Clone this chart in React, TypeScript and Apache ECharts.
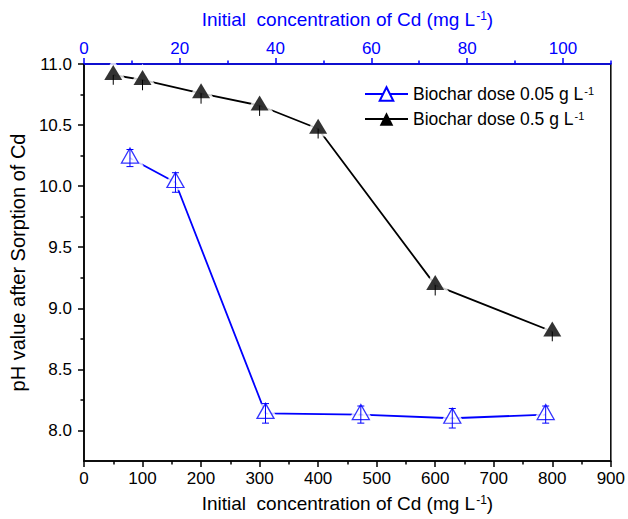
import React, { useEffect, useRef } from 'react';
import * as echarts from 'echarts';

// Black series: biochar dose 0.5 g/L, bottom axis concentration
const blackConc = [50, 100, 200, 300, 400, 600, 800];
const blackPH = [10.91, 10.87, 10.76, 10.66, 10.47, 9.19, 8.81];
const blackErr = [0.08, 0.085, 0.085, 0.085, 0.08, 0.085, 0.08];

// Blue series: biochar dose 0.05 g/L, top axis concentration
const blueConc = [9.6, 19.1, 37.9, 57.8, 76.9, 96.4];
const bluePH = [10.23, 10.03, 8.14, 8.13, 8.1, 8.13];
const blueErr = [0.07, 0.08, 0.08, 0.07, 0.08, 0.07];

const topLabelValues = [0, 20, 40, 60, 80, 100];
const topMinorValues = [10, 30, 50, 70, 90, 110];
const yLabelValues = [8, 8.5, 9, 9.5, 10, 10.5, 11];
const yMinorValues = [8.25, 8.75, 9.25, 9.75, 10.25, 10.75];

const BLUE = '#0000ff';
const FONT = "'Liberation Sans', Arial, sans-serif";

const blackName = 'Biochar dose 0.5 g L-1';
const blueName = 'Biochar dose 0.05 g L-1';

const supRich = (size: number) => ({
  sup: { fontSize: size, verticalAlign: 'top', lineHeight: size, padding: [0, 0, 0, 1] },
});

export default function App() {
  const ref = useRef<HTMLDivElement>(null);
  useEffect(() => {
    if (!ref.current) return;
    const chart = echarts.init(ref.current, null, { renderer: 'svg' });

    const blackData = blackConc.map((x, i) => [x, blackPH[i]]);
    const blueData = blueConc.map((x, i) => [x, bluePH[i]]);
    // black error bars: only the lower half shows below the filled symbol
    const blackErrData = blackConc.map((x, i) => [x, blackPH[i], blackPH[i] - blackErr[i], blackPH[i]]);
    const blueErrData = blueConc.map((x, i) => [x, bluePH[i], bluePH[i] - blueErr[i], bluePH[i] + blueErr[i]]);

    const blackSize = [18, 15];
    const blueSize = [17, 15];

    const errRender = (color: string, cap: number) => (params: any, api: any) => {
      const x = api.value(0);
      const lo = api.coord([x, api.value(2)]);
      const hi = api.coord([x, api.value(3)]);
      const style = { stroke: color, lineWidth: 1 };
      const children: any[] = [
        { type: 'line', shape: { x1: lo[0], y1: lo[1], x2: hi[0], y2: hi[1] }, style },
      ];
      if (cap > 0) {
        children.push({ type: 'line', shape: { x1: lo[0] - cap / 2, y1: lo[1], x2: lo[0] + cap / 2, y2: lo[1] }, style });
        children.push({ type: 'line', shape: { x1: hi[0] - cap / 2, y1: hi[1], x2: hi[0] + cap / 2, y2: hi[1] }, style });
      }
      return { type: 'group', children };
    };

    const option: any = {
      animation: false,
      textStyle: { fontFamily: FONT },
      grid: {
        left: 81, right: 14, top: 64, bottom: 58,
        show: true, borderColor: '#000', borderWidth: 1.5, backgroundColor: 'transparent',
      },
      legend: {
        orient: 'vertical',
        left: 359,
        top: 80,
        itemWidth: 43,
        itemHeight: 17,
        itemGap: 7,
        data: [blueName, blackName],
        textStyle: { fontSize: 17.5, color: '#000', fontFamily: FONT, rich: supRich(11) },
        formatter: (name: string) => name.replace('L-1', 'L{sup|-1}'),
      },
      xAxis: [
        {
          type: 'value', position: 'bottom', min: 0, max: 900, interval: 100,
          name: 'Initial  concentration of Cd (mg L{sup|-1})',
          nameLocation: 'middle', nameGap: 33,
          nameTextStyle: { fontSize: 19, color: '#000', fontFamily: FONT, rich: supRich(12) },
          axisLine: { lineStyle: { color: '#000', width: 1.5 } },
          axisTick: { length: 6, lineStyle: { color: '#000', width: 1.5 } },
          minorTick: { show: true, splitNumber: 2, length: 3.5, lineStyle: { color: '#000', width: 1.5 } },
          axisLabel: { fontSize: 17, color: '#000', margin: 9, fontFamily: FONT },
          splitLine: { show: false },
        },
        {
          type: 'value', position: 'top', min: 0, max: 110,
          name: 'Initial  concentration of Cd (mg L{sup|-1})',
          nameLocation: 'middle', nameGap: 35,
          nameTextStyle: { fontSize: 19, color: BLUE, fontFamily: FONT, rich: supRich(12) },
          axisLine: { lineStyle: { color: BLUE, width: 1.5 } },
          axisTick: { length: 6, customValues: topLabelValues, lineStyle: { color: BLUE, width: 1.5 } },
          axisLabel: { fontSize: 17, color: BLUE, margin: 7, customValues: topLabelValues, fontFamily: FONT },
          splitLine: { show: false },
        },
        {
          type: 'value', position: 'top', min: 0, max: 110,
          axisLine: { show: false },
          axisTick: { length: 3.5, customValues: topMinorValues, lineStyle: { color: BLUE, width: 1.5 } },
          axisLabel: { show: false },
          splitLine: { show: false },
        },
      ],
      yAxis: [
        {
          type: 'value', position: 'left', min: 7.75, max: 11,
          name: 'pH value after Sorption of Cd',
          nameLocation: 'middle', nameGap: 51,
          nameTextStyle: { fontSize: 20, color: '#000', fontFamily: FONT },
          axisLine: { lineStyle: { color: '#000', width: 1.5 } },
          axisTick: { length: 6, customValues: yLabelValues, lineStyle: { color: '#000', width: 1.5 } },
          axisLabel: {
            fontSize: 17, color: '#000', margin: 12, customValues: yLabelValues, fontFamily: FONT,
            formatter: (v: number) => v.toFixed(1),
          },
          splitLine: { show: false },
        },
        {
          type: 'value', position: 'left', min: 7.75, max: 11,
          axisLine: { show: false },
          axisTick: { length: 3.5, customValues: yMinorValues, lineStyle: { color: '#000', width: 1.5 } },
          axisLabel: { show: false },
          splitLine: { show: false },
        },
      ],
      series: [
        {
          name: blueName, type: 'line', xAxisIndex: 1, yAxisIndex: 0, data: blueData,
          showSymbol: false, symbol: 'emptyTriangle', z: 2,
          lineStyle: { color: BLUE, width: 1.8 }, itemStyle: { color: BLUE },
        },
        {
          name: blackName, type: 'line', xAxisIndex: 0, yAxisIndex: 0, data: blackData,
          showSymbol: false, symbol: 'triangle', z: 2,
          lineStyle: { color: '#000', width: 1.8 }, itemStyle: { color: '#000' },
        },
        {
          name: 'haloBlue', type: 'scatter', xAxisIndex: 1, yAxisIndex: 0, data: blueData, z: 3,
          symbol: 'triangle', symbolSize: blueSize, symbolOffset: [0, -2.5],
          itemStyle: { color: '#fff', borderColor: '#fff', borderWidth: 6 }, silent: true,
        },
        {
          name: 'haloBlack', type: 'scatter', xAxisIndex: 0, yAxisIndex: 0, data: blackData, z: 3,
          symbol: 'triangle', symbolSize: blackSize, symbolOffset: [0, -2.5],
          itemStyle: { color: '#fff', borderColor: '#fff', borderWidth: 6 }, silent: true,
        },
        {
          name: 'errBlack', type: 'custom', xAxisIndex: 0, yAxisIndex: 0, data: blackErrData, z: 4,
          renderItem: errRender('#000', 0), encode: { x: 0, y: [1, 2, 3] }, silent: true,
        },
        {
          name: 'markBlue', type: 'scatter', xAxisIndex: 1, yAxisIndex: 0, data: blueData, z: 5,
          symbol: 'triangle', symbolSize: blueSize, symbolOffset: [0, -2.5],
          itemStyle: { color: 'rgba(255,255,255,0)', borderColor: BLUE, borderWidth: 1.3 },
        },
        {
          name: 'markBlack', type: 'scatter', xAxisIndex: 0, yAxisIndex: 0, data: blackData, z: 5,
          symbol: 'triangle', symbolSize: blackSize, symbolOffset: [0, -2.5],
          itemStyle: { color: '#000' },
        },
        {
          name: 'errBlue', type: 'custom', xAxisIndex: 1, yAxisIndex: 0, data: blueErrData, z: 6,
          renderItem: errRender(BLUE, 7), encode: { x: 0, y: [1, 2, 3] }, silent: true,
        },
      ],
    };
    chart.setOption(option);
    return () => chart.dispose();
  }, []);
  return <div ref={ref} style={{ width: 628, height: 519, position: 'absolute', left: 0, top: 0 }} />;
}
